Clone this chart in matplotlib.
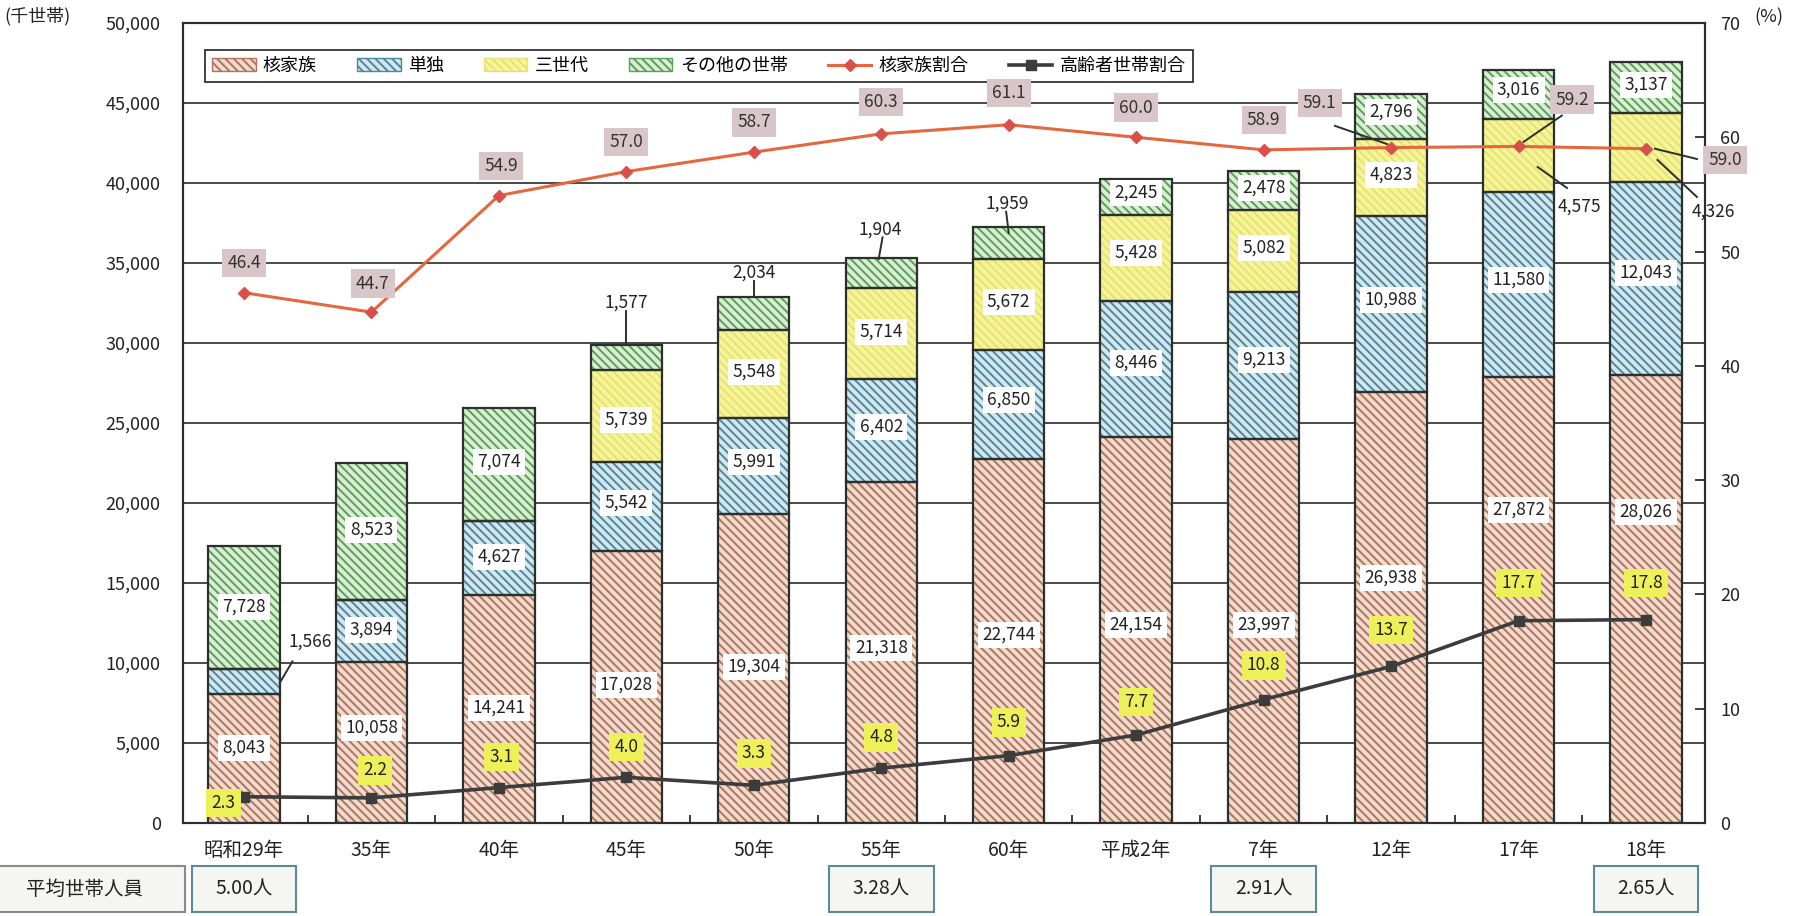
import numpy as np
import matplotlib
matplotlib.use('Agg')
import matplotlib.pyplot as plt
import matplotlib.transforms as mtransforms
from matplotlib.patches import Patch, Rectangle
from matplotlib.lines import Line2D

plt.rcParams['font.family'] = ['Noto Sans CJK JP', 'DejaVu Sans']
plt.rcParams['hatch.linewidth'] = 1.4

# data (千世帯, %)
years = ['昭和29年', '35年', '40年', '45年', '50年', '55年', '60年',
         '平成2年', '7年', '12年', '17年', '18年']
nuclear = [8043, 10058, 14241, 17028, 19304, 21318, 22744, 24154, 23997, 26938, 27872, 28026]
single = [1566, 3894, 4627, 5542, 5991, 6402, 6850, 8446, 9213, 10988, 11580, 12043]
three_gen = [None, None, None, 5739, 5548, 5714, 5672, 5428, 5082, 4823, 4575, 4326]
other = [7728, 8523, 7074, 1577, 2034, 1904, 1959, 2245, 2478, 2796, 3016, 3137]
nuclear_ratio = [46.4, 44.7, 54.9, 57.0, 58.7, 60.3, 61.1, 60.0, 58.9, 59.1, 59.2, 59.0]
elderly_ratio = [2.3, 2.2, 3.1, 4.0, 3.3, 4.8, 5.9, 7.7, 10.8, 13.7, 17.7, 17.8]
avg_size_pos = [0, 5, 8, 11]
avg_size = ['5.00人', '3.28人', '2.91人', '2.65人']

series_names = ['核家族', '単独', '三世代', 'その他の世帯']

# label placement (y in 千世帯, None = label drawn outside)
nuc_lab_y = [4690, 5940, 7190, 8625, 9750, 10940, 11750, 12375, 12375, 15310, 19560, 19440]
sgl_lab_y = [None, 12060, 16625, 20000, 22560, 24750, 26440, 28750, 28940, 32690, 33940, 34375]
thr_lab_y = [None, None, None, 25190, 28190, 30690, 32560, 35625, 35940, 40500, None, None]
oth_lab_y = [13500, 18310, 22560, None, None, None, None, 39375, 39690, 44440, 45810, 46125]
# outside labels: (series index, category, label x, label y, leader start, leader end)
outside = [
    (1, 0, 0.52, 11310, (0.38, 10100), (0.28, 8750)),
    (3, 3, 3.0, 32500, (3.0, 32000), (3.0, 29886)),
    (3, 4, 4.0, 34375, (4.0, 33900), (4.0, 32877)),
    (3, 5, 4.99, 37060, (5.01, 36600), (4.98, 35250)),
    (3, 6, 5.99, 38690, (5.98, 38200), (6.0, 36875)),
    (2, 10, 10.48, 38500, (10.38, 39690), (10.15, 41000)),
    (2, 11, 11.53, 38190, (11.40, 39125), (11.09, 41440)),
]
nuc_ratio_lab = [(0, 49.0), (1.01, 47.2), (2.02, 57.5), (3, 59.6), (4, 61.3), (5, 63.1),
                 (6, 63.9), (7, 62.6), (8, 61.5), (8.44, 63.0), (10.42, 63.3), (11.62, 58.0)]
nuc_ratio_leaders = [((8.56, 61.0), (8.97, 59.4)), ((10.34, 61.9), (10.04, 59.6)),
                     ((11.40, 58.1), (11.07, 59.0))]
eld_ratio_lab = [(-0.16, 1.75), (1.03, 4.6), (2.02, 5.8), (3, 6.65), (4, 6.1), (5, 7.5),
                 (6, 8.8), (7, 10.6), (8, 13.8), (9, 16.9), (10, 21.0), (11, 21.0)]

colors = [('#f0dbce', '#b0735c'), ('#d6e7ec', '#4a88a2'),
          ('#f6f596', '#e6e07a'), ('#dcedd5', '#58a058')]
hatch = '\\\\\\\\'
dark = '#2c302d'

fig = plt.figure(figsize=(17.97, 9.16), dpi=100)
ax = fig.add_axes([0.1018, 0.1015, 0.847, 0.8734])

x = np.arange(len(years))
width = 0.56
bottom = np.zeros(len(years))
for vals, (bg, hc) in zip([nuclear, single, three_gen, other], colors):
    v = np.array([0 if a is None else a for a in vals], dtype=float)
    ax.bar(x, v, width, bottom=bottom, color=bg, edgecolor=hc, hatch=hatch, linewidth=0, zorder=2)
    ax.bar(x, v, width, bottom=bottom, fill=False, edgecolor=dark, linewidth=1.6, zorder=3)
    bottom = bottom + v

ax.set_xlim(-0.479, 11.463)
ax.set_ylim(0, 50000)
ax.set_yticks(range(0, 50001, 5000))
ax.set_yticklabels([f'{v:,}' for v in range(0, 50001, 5000)], fontsize=13, color='#222')
ax.yaxis.grid(True, color='#3a3a3a', linewidth=1.3)
ax.set_axisbelow(True)
ax.tick_params(axis='y', length=0, pad=16)
ax.set_xticks(x)
ax.set_xticklabels(years, fontsize=14, color='#222')
ax.tick_params(axis='x', length=0, pad=12)
ax.set_xticks(x[:-1] + 0.5, minor=True)
ax.tick_params(axis='x', which='minor', direction='in', length=6, width=1.3, color=dark)
for s in ax.spines.values():
    s.set_color(dark)
    s.set_linewidth(1.5)

ax2 = ax.twinx()
ax2.set_ylim(0, 70)
ax2.set_yticks(range(0, 71, 10))
ax2.set_yticklabels([str(v) for v in range(0, 71, 10)], fontsize=13, color='#222')
ax2.tick_params(axis='y', direction='in', length=7, width=1.3, color=dark, pad=11)
for s in ax2.spines.values():
    s.set_color(dark)
    s.set_linewidth(1.5)

ax2.plot(x, nuclear_ratio, color='#e4673f', linewidth=2.2, marker='D', markersize=6,
         markerfacecolor='#d9504a', markeredgecolor='#d9504a', zorder=4)
ax2.plot(x, elderly_ratio, color='#3c3c3c', linewidth=2.6, marker='s', markersize=7, zorder=4)

# segment value labels
white_box = dict(boxstyle='square,pad=0.25', fc='white', ec='none')
for vals, lab_y in zip([nuclear, single, three_gen, other],
                       [nuc_lab_y, sgl_lab_y, thr_lab_y, oth_lab_y]):
    for i, (v, ly) in enumerate(zip(vals, lab_y)):
        if v is None or ly is None:
            continue
        ax2.text(i, ly, f'{v:,}', transform=ax.transData, ha='center', va='center',
                 fontsize=12.5, color='#222', bbox=white_box, zorder=6)

all_series = [nuclear, single, three_gen, other]
for si, ci, lx, ly, p0, p1 in outside:
    ax2.text(lx, ly, f'{all_series[si][ci]:,}', transform=ax.transData, ha='center',
             va='center', fontsize=12.5, color='#222', zorder=6)
    ax2.plot([p0[0], p1[0]], [p0[1], p1[1]], transform=ax.transData, color=dark,
             linewidth=1.4, zorder=6)

# ratio labels
for v, (lx, ly) in zip(nuclear_ratio, nuc_ratio_lab):
    ax2.text(lx, ly, f'{v:.1f}', ha='center', va='center', fontsize=12.5, color='#333',
             bbox=dict(boxstyle='square,pad=0.3', fc='#d9c6c8', ec='none'), zorder=6)
for p0, p1 in nuc_ratio_leaders:
    ax2.plot([p0[0], p1[0]], [p0[1], p1[1]], color=dark, linewidth=1.4, zorder=6)
for v, (lx, ly) in zip(elderly_ratio, eld_ratio_lab):
    ax2.text(lx, ly, f'{v:.1f}', ha='center', va='center', fontsize=12.5, color='#222',
             bbox=dict(boxstyle='square,pad=0.3', fc='#eef05a', ec='none'), zorder=6)

# legend
handles = [Patch(facecolor=bg, edgecolor=hc, hatch=hatch) for bg, hc in colors]
handles += [Line2D([], [], color='#e4673f', linewidth=2.2, marker='D', markersize=6,
                   markerfacecolor='#d9504a', markeredgecolor='#d9504a'),
            Line2D([], [], color='#3c3c3c', linewidth=2.6, marker='s', markersize=7)]
labels = series_names + ['核家族割合', '高齢者世帯割合']
leg = ax2.legend(handles, labels, loc='lower left', bbox_to_anchor=(0.0145, 0.926, 0.649, 0.063),
                 mode='expand', ncol=6, fontsize=13, frameon=True, fancybox=False,
                 edgecolor='#222', borderaxespad=0, handlelength=2.4, handletextpad=0.4,
                 columnspacing=1.0)
leg.get_frame().set_linewidth(1.2)
leg.get_frame().set_alpha(1)

fig.text(4 / 1797, 1 - 16 / 916, '(千世帯)', ha='left', va='center', fontsize=13, color='#222')
fig.text(1754 / 1797, 1 - 17 / 916, '(%)', ha='left', va='center', fontsize=13, color='#222')

# average household size row
trans = mtransforms.blended_transform_factory(ax.transData, ax.transAxes)
ax.add_patch(Rectangle((-1.93, -0.111), 1.47, 0.0575, transform=trans, clip_on=False,
                       fc='#f5f6f1', ec='#8a8a8a', linewidth=1.5))
ax.text(-1.25, -0.0825, '平均世帯人員', transform=trans, ha='center', va='center',
        fontsize=14, color='#222')
for p, s in zip(avg_size_pos, avg_size):
    ax.add_patch(Rectangle((p - 0.41, -0.111), 0.82, 0.0575, transform=trans, clip_on=False,
                           fc='#f5f6f1', ec='#5d8a97', linewidth=1.5))
    ax.text(p, -0.0825, s, transform=trans, ha='center', va='center', fontsize=14, color='#222')

fig.savefig('out.png', dpi=100)
